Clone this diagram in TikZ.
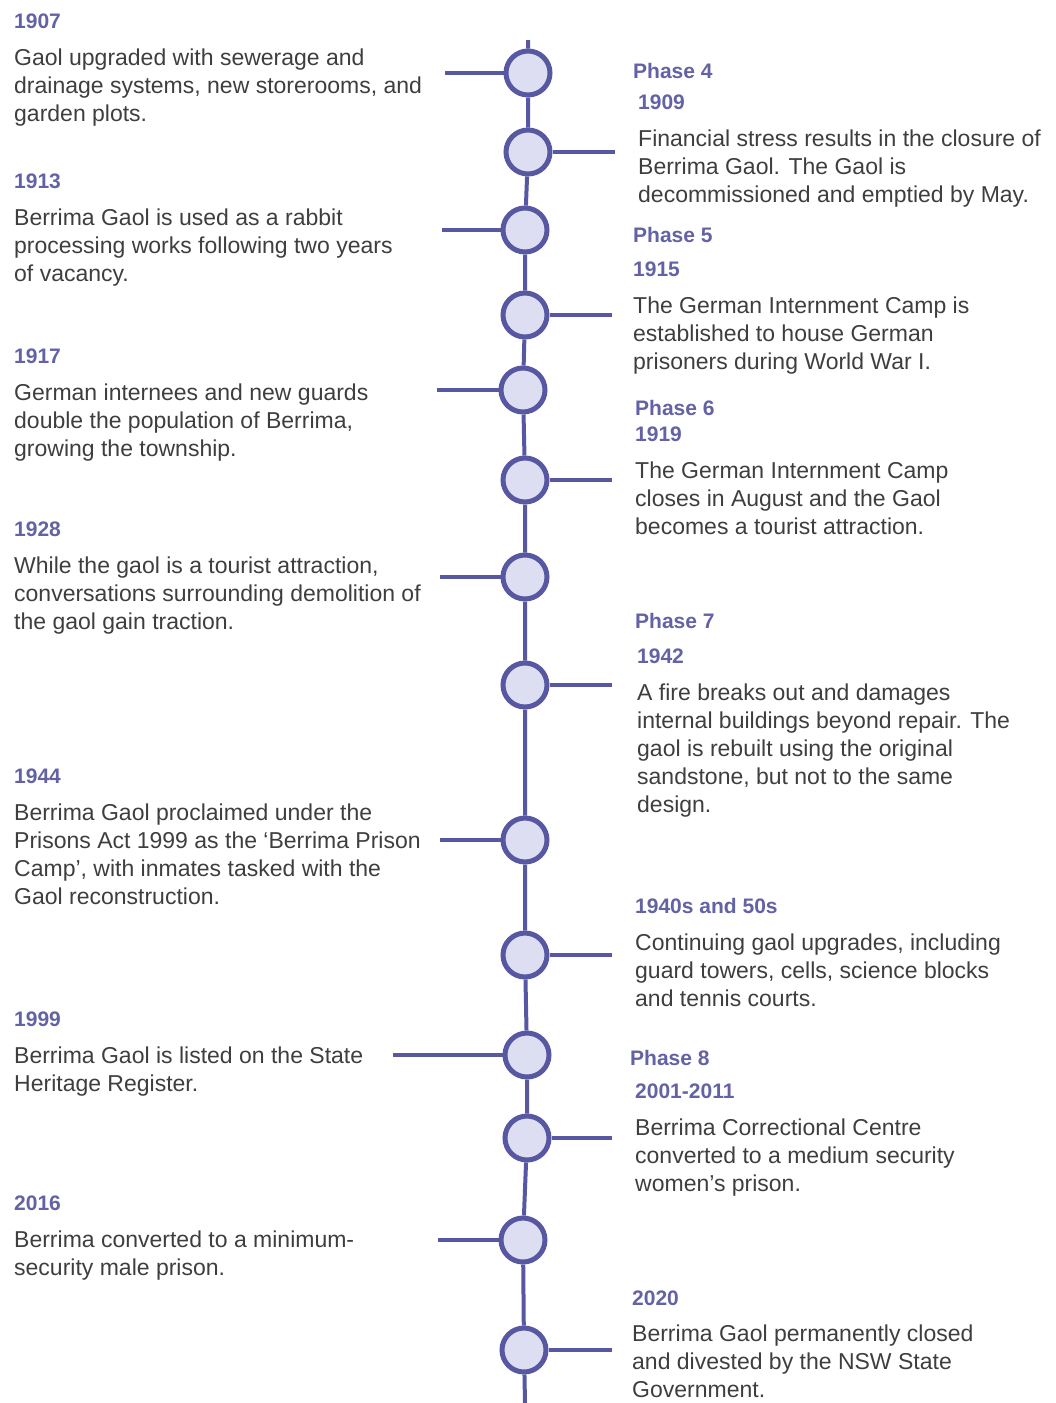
\documentclass[tikz,border=0pt]{standalone}
\usepackage{fontspec}
\setmainfont{Liberation Sans}
\usetikzlibrary{positioning}
\definecolor{lineColor}{RGB}{88,88,162}
\definecolor{dotColor}{RGB}{222,222,242}
\definecolor{yearColor}{RGB}{98,98,165}
\definecolor{textColor}{RGB}{62,62,62}
\tikzset{event/.style={circle, draw=lineColor, fill=dotColor, line width=5pt, minimum size=44pt, inner sep=0pt}}
\tikzset{year/.style={anchor=base west, inner sep=0pt, text=yearColor, font=\fontsize{21}{24}\selectfont\bfseries}}
\tikzset{story/.style={anchor=north west, inner sep=0pt, align=left, text=textColor, font=\fontsize{23}{28}\selectfont}}
\tikzset{stem/.style={draw=lineColor, line width=4pt}}

\begin{document}
\begin{tikzpicture}[x=1pt, y=-1pt, node distance=20pt]
	\pgfdeclarelayer{background}
	\pgfsetlayers{background,main}
	\useasboundingbox (0,0) rectangle (1055,1403);

	% Nodes
		\node (c1) [event] at (528,73) {};
		\node (c2) [event] at (528,152) {};
		\node (c3) [event] at (525,230) {};
		\node (c4) [event] at (525,315) {};
		\node (c5) [event] at (523,390) {};
		\node (c6) [event] at (525,480) {};
		\node (c7) [event] at (525,577) {};
		\node (c8) [event] at (525,685) {};
		\node (c9) [event] at (525,840) {};
		\node (c10) [event] at (525,955) {};
		\node (c11) [event] at (527,1055) {};
		\node (c12) [event] at (527,1138) {};
		\node (c13) [event] at (523,1240) {};
		\node (c14) [event] at (524,1350) {};

		% left side
		\node (y1907) [year] at (14,28) {1907};
		\node (t1907) [story, below=of y1907.south west, anchor=north west] {Gaol upgraded with sewerage and\\ drainage systems, new storerooms, and\\ garden plots.};

		\node (y1913) [year] at (14,188) {1913};
		\node (t1913) [story, below=of y1913.south west, anchor=north west] {Berrima Gaol is used as a rabbit\\ processing works following two years\\ of vacancy.};

		\node (y1917) [year] at (14,363) {1917};
		\node (t1917) [story, below=of y1917.south west, anchor=north west] {German internees and new guards\\ double the population of Berrima,\\ growing the township.};

		\node (y1928) [year] at (14,536) {1928};
		\node (t1928) [story, below=of y1928.south west, anchor=north west] {While the gaol is a tourist attraction,\\ conversations surrounding demolition of\\ the gaol gain traction.};

		\node (y1944) [year] at (14,783) {1944};
		\node (t1944) [story, below=of y1944.south west, anchor=north west] {Berrima Gaol proclaimed under the\\ Prisons Act 1999 as the `Berrima Prison\\ Camp', with inmates tasked with the\\ Gaol reconstruction.};

		\node (y1999) [year] at (14,1026) {1999};
		\node (t1999) [story, below=of y1999.south west, anchor=north west] {Berrima Gaol is listed on the State\\ Heritage Register.};

		\node (y2016) [year] at (14,1210) {2016};
		\node (t2016) [story, below=of y2016.south west, anchor=north west] {Berrima converted to a minimum-\\ security male prison.};

		% right side
		\node (p4) [year] at (633,78) {Phase 4};
		\node (y1909) [year] at (638,109) {1909};
		\node (t1909) [story, below=of y1909.south west, anchor=north west] {Financial stress results in the closure of\\ Berrima Gaol. The Gaol is\\ decommissioned and emptied by May.};

		\node (p5) [year] at (633,242) {Phase 5};
		\node (y1915) [year] at (633,276) {1915};
		\node (t1915) [story, below=of y1915.south west, anchor=north west] {The German Internment Camp is\\ established to house German\\ prisoners during World War I.};

		\node (p6) [year] at (635,415) {Phase 6};
		\node (y1919) [year] at (635,441) {1919};
		\node (t1919) [story, below=of y1919.south west, anchor=north west] {The German Internment Camp\\ closes in August and the Gaol\\ becomes a tourist attraction.};

		\node (p7) [year] at (635,628) {Phase 7};
		\node (y1942) [year] at (637,663) {1942};
		\node (t1942) [story, below=of y1942.south west, anchor=north west] {A fire breaks out and damages\\ internal buildings beyond repair. The\\ gaol is rebuilt using the original\\ sandstone, but not to the same\\ design.};

		\node (y1940s) [year] at (635,913) {1940s and 50s};
		\node (t1940s) [story, below=of y1940s.south west, anchor=north west] {Continuing gaol upgrades, including\\ guard towers, cells, science blocks\\ and tennis courts.};

		\node (p8) [year] at (630,1065) {Phase 8};
		\node (y2001) [year] at (635,1098) {2001-2011};
		\node (t2001) [story, below=of y2001.south west, anchor=north west] {Berrima Correctional Centre\\ converted to a medium security\\ women's prison.};

		\node (y2020) [year] at (632,1305) {2020};
		\node (t2020) [story, below=19pt of y2020.south west, anchor=north west] {Berrima Gaol permanently closed\\ and divested by the NSW State\\ Government.};

		% connector ends
		\coordinate (e1) at (445,73);
		\coordinate (e2) at (615,152);
		\coordinate (e3) at (442,230);
		\coordinate (e4) at (612,315);
		\coordinate (e5) at (437,390);
		\coordinate (e6) at (612,480);
		\coordinate (e7) at (440,577);
		\coordinate (e8) at (612,685);
		\coordinate (e9) at (440,840);
		\coordinate (e10) at (612,955);
		\coordinate (e11) at (393,1055);
		\coordinate (e12) at (612,1138);
		\coordinate (e13) at (438,1240);
		\coordinate (e14) at (612,1350);
		\coordinate (top) at (528,40);
		\coordinate (bottom) at (525,1403);

	% Connectors
	\begin{pgfonlayer}{background}
		\draw [stem] (top) -- (c1) -- (c2) -- (c3) -- (c4) -- (c5) -- (c6) -- (c7)
			-- (c8) -- (c9) -- (c10) -- (c11) -- (c12) -- (c13) -- (c14) -- (bottom);
	\end{pgfonlayer}
	\begin{scope}[stem]
		\foreach \i in {1,3,5,7,9,11,13}
			\draw (e\i) -- (c\i.west);
		\foreach \i in {2,4,6,8,10,12,14}
			\draw (c\i.east) -- (e\i);
	\end{scope}

\end{tikzpicture}
\end{document}
